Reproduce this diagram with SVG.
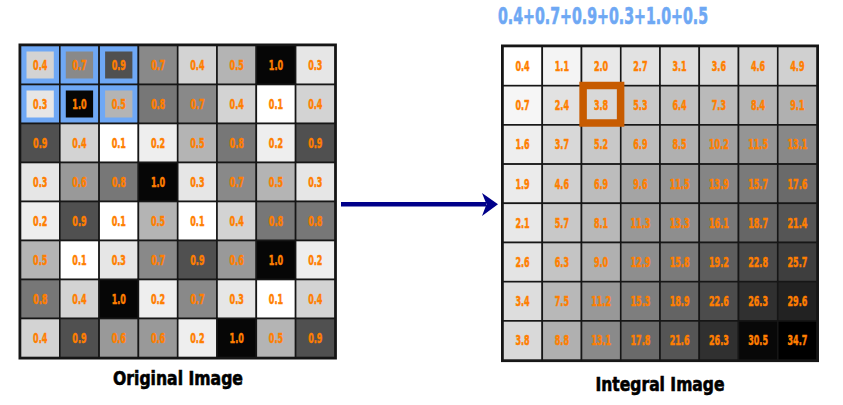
<svg xmlns="http://www.w3.org/2000/svg" width="843" height="405" viewBox="0 0 843 405">
<style>
  .c{stroke:#161616;stroke-width:1.6}
  .n{font-family:"Liberation Sans Narrow","DejaVu Sans Condensed","Roboto Condensed",sans-serif;font-weight:bold;font-size:14px;fill:#ff7f00;stroke:#ff7f00;stroke-width:0.5;text-anchor:middle}
  .lbl{font-family:"Liberation Sans Narrow","DejaVu Sans Condensed",sans-serif;font-weight:bold;font-size:20px;fill:#000;stroke:#000;stroke-width:0.6;text-anchor:middle}
  .ttl{font-family:"Liberation Sans Narrow","DejaVu Sans Condensed",sans-serif;font-weight:bold;font-size:23px;fill:#6ea8f4;stroke:#6ea8f4;stroke-width:0.6}
  .hl{fill:#6fa8f5}
  .v1{fill:#ffffff}.v2{fill:#eeeeee}.v3{fill:#e6e6e6}.v4{fill:#d3d3d3}.v5{fill:#b4b4b4}
  .v6{fill:#999999}.v7{fill:#898989}.v8{fill:#777777}.v9{fill:#505050}.v10{fill:#060606}
</style>
<rect width="843" height="405" fill="#ffffff"/>

<text class="ttl" x="498" y="23.5" textLength="210" lengthAdjust="spacingAndGlyphs">0.4+0.7+0.9+0.3+1.0+0.5</text>

<g id="original-image">
  <rect x="19.5" y="44.5" width="316.4" height="314" fill="none" stroke="#161616" stroke-width="2"/>
  <rect class="c hl" x="20.5" y="45.5" width="39.3" height="39"/><rect class="v4" x="26.5" y="51.5" width="27.3" height="27"/>
  <rect class="c hl" x="59.8" y="45.5" width="39.3" height="39"/><rect class="v7" x="65.8" y="51.5" width="27.3" height="27"/>
  <rect class="c hl" x="99.1" y="45.5" width="39.3" height="39"/><rect class="v9" x="105.1" y="51.5" width="27.3" height="27"/>
  <rect class="c v7" x="138.4" y="45.5" width="39.3" height="39"/>
  <rect class="c v4" x="177.7" y="45.5" width="39.3" height="39"/>
  <rect class="c v5" x="217" y="45.5" width="39.3" height="39"/>
  <rect class="c v10" x="256.3" y="45.5" width="39.3" height="39"/>
  <rect class="c v3" x="295.6" y="45.5" width="39.3" height="39"/>
  <rect class="c hl" x="20.5" y="84.5" width="39.3" height="39"/><rect class="v3" x="26.5" y="90.5" width="27.3" height="27"/>
  <rect class="c hl" x="59.8" y="84.5" width="39.3" height="39"/><rect class="v10" x="65.8" y="90.5" width="27.3" height="27"/>
  <rect class="c hl" x="99.1" y="84.5" width="39.3" height="39"/><rect class="v5" x="105.1" y="90.5" width="27.3" height="27"/>
  <rect class="c v8" x="138.4" y="84.5" width="39.3" height="39"/>
  <rect class="c v7" x="177.7" y="84.5" width="39.3" height="39"/>
  <rect class="c v4" x="217" y="84.5" width="39.3" height="39"/>
  <rect class="c v1" x="256.3" y="84.5" width="39.3" height="39"/>
  <rect class="c v4" x="295.6" y="84.5" width="39.3" height="39"/>
  <rect class="c v9" x="20.5" y="123.5" width="39.3" height="39"/>
  <rect class="c v4" x="59.8" y="123.5" width="39.3" height="39"/>
  <rect class="c v1" x="99.1" y="123.5" width="39.3" height="39"/>
  <rect class="c v2" x="138.4" y="123.5" width="39.3" height="39"/>
  <rect class="c v5" x="177.7" y="123.5" width="39.3" height="39"/>
  <rect class="c v8" x="217" y="123.5" width="39.3" height="39"/>
  <rect class="c v2" x="256.3" y="123.5" width="39.3" height="39"/>
  <rect class="c v9" x="295.6" y="123.5" width="39.3" height="39"/>
  <rect class="c v3" x="20.5" y="162.5" width="39.3" height="39"/>
  <rect class="c v6" x="59.8" y="162.5" width="39.3" height="39"/>
  <rect class="c v8" x="99.1" y="162.5" width="39.3" height="39"/>
  <rect class="c v10" x="138.4" y="162.5" width="39.3" height="39"/>
  <rect class="c v3" x="177.7" y="162.5" width="39.3" height="39"/>
  <rect class="c v7" x="217" y="162.5" width="39.3" height="39"/>
  <rect class="c v5" x="256.3" y="162.5" width="39.3" height="39"/>
  <rect class="c v3" x="295.6" y="162.5" width="39.3" height="39"/>
  <rect class="c v2" x="20.5" y="201.5" width="39.3" height="39"/>
  <rect class="c v9" x="59.8" y="201.5" width="39.3" height="39"/>
  <rect class="c v1" x="99.1" y="201.5" width="39.3" height="39"/>
  <rect class="c v5" x="138.4" y="201.5" width="39.3" height="39"/>
  <rect class="c v1" x="177.7" y="201.5" width="39.3" height="39"/>
  <rect class="c v4" x="217" y="201.5" width="39.3" height="39"/>
  <rect class="c v8" x="256.3" y="201.5" width="39.3" height="39"/>
  <rect class="c v8" x="295.6" y="201.5" width="39.3" height="39"/>
  <rect class="c v5" x="20.5" y="240.5" width="39.3" height="39"/>
  <rect class="c v1" x="59.8" y="240.5" width="39.3" height="39"/>
  <rect class="c v3" x="99.1" y="240.5" width="39.3" height="39"/>
  <rect class="c v7" x="138.4" y="240.5" width="39.3" height="39"/>
  <rect class="c v9" x="177.7" y="240.5" width="39.3" height="39"/>
  <rect class="c v6" x="217" y="240.5" width="39.3" height="39"/>
  <rect class="c v10" x="256.3" y="240.5" width="39.3" height="39"/>
  <rect class="c v2" x="295.6" y="240.5" width="39.3" height="39"/>
  <rect class="c v8" x="20.5" y="279.5" width="39.3" height="39"/>
  <rect class="c v4" x="59.8" y="279.5" width="39.3" height="39"/>
  <rect class="c v10" x="99.1" y="279.5" width="39.3" height="39"/>
  <rect class="c v2" x="138.4" y="279.5" width="39.3" height="39"/>
  <rect class="c v7" x="177.7" y="279.5" width="39.3" height="39"/>
  <rect class="c v3" x="217" y="279.5" width="39.3" height="39"/>
  <rect class="c v1" x="256.3" y="279.5" width="39.3" height="39"/>
  <rect class="c v4" x="295.6" y="279.5" width="39.3" height="39"/>
  <rect class="c v4" x="20.5" y="318.5" width="39.3" height="39"/>
  <rect class="c v9" x="59.8" y="318.5" width="39.3" height="39"/>
  <rect class="c v6" x="99.1" y="318.5" width="39.3" height="39"/>
  <rect class="c v6" x="138.4" y="318.5" width="39.3" height="39"/>
  <rect class="c v2" x="177.7" y="318.5" width="39.3" height="39"/>
  <rect class="c v10" x="217" y="318.5" width="39.3" height="39"/>
  <rect class="c v5" x="256.3" y="318.5" width="39.3" height="39"/>
  <rect class="c v9" x="295.6" y="318.5" width="39.3" height="39"/>

  <g class="n" transform="scale(0.64,1)">
    <text x="62.81" y="70">0.4</text><text x="124.22" y="70">0.7</text><text x="185.63" y="70">0.9</text><text x="247.03" y="70">0.7</text><text x="308.44" y="70">0.4</text><text x="369.84" y="70">0.5</text><text x="431.25" y="70">1.0</text><text x="492.66" y="70">0.3</text>
    <text x="62.81" y="109">0.3</text><text x="124.22" y="109">1.0</text><text x="185.63" y="109">0.5</text><text x="247.03" y="109">0.8</text><text x="308.44" y="109">0.7</text><text x="369.84" y="109">0.4</text><text x="431.25" y="109">0.1</text><text x="492.66" y="109">0.4</text>
    <text x="62.81" y="148">0.9</text><text x="124.22" y="148">0.4</text><text x="185.63" y="148">0.1</text><text x="247.03" y="148">0.2</text><text x="308.44" y="148">0.5</text><text x="369.84" y="148">0.8</text><text x="431.25" y="148">0.2</text><text x="492.66" y="148">0.9</text>
    <text x="62.81" y="187">0.3</text><text x="124.22" y="187">0.6</text><text x="185.63" y="187">0.8</text><text x="247.03" y="187">1.0</text><text x="308.44" y="187">0.3</text><text x="369.84" y="187">0.7</text><text x="431.25" y="187">0.5</text><text x="492.66" y="187">0.3</text>
    <text x="62.81" y="226">0.2</text><text x="124.22" y="226">0.9</text><text x="185.63" y="226">0.1</text><text x="247.03" y="226">0.5</text><text x="308.44" y="226">0.1</text><text x="369.84" y="226">0.4</text><text x="431.25" y="226">0.8</text><text x="492.66" y="226">0.8</text>
    <text x="62.81" y="265">0.5</text><text x="124.22" y="265">0.1</text><text x="185.63" y="265">0.3</text><text x="247.03" y="265">0.7</text><text x="308.44" y="265">0.9</text><text x="369.84" y="265">0.6</text><text x="431.25" y="265">1.0</text><text x="492.66" y="265">0.2</text>
    <text x="62.81" y="304">0.8</text><text x="124.22" y="304">0.4</text><text x="185.63" y="304">1.0</text><text x="247.03" y="304">0.2</text><text x="308.44" y="304">0.7</text><text x="369.84" y="304">0.3</text><text x="431.25" y="304">0.1</text><text x="492.66" y="304">0.4</text>
    <text x="62.81" y="343">0.4</text><text x="124.22" y="343">0.9</text><text x="185.63" y="343">0.6</text><text x="247.03" y="343">0.6</text><text x="308.44" y="343">0.2</text><text x="369.84" y="343">1.0</text><text x="431.25" y="343">0.5</text><text x="492.66" y="343">0.9</text>
  </g>
  <text class="lbl" x="178" y="385" textLength="130" lengthAdjust="spacingAndGlyphs">Original Image</text>
</g>

<g id="integral-image">
  <rect x="502" y="45.5" width="316" height="315.6" fill="none" stroke="#161616" stroke-width="2"/>
  <g class="c">
    <rect x="503" y="46.5" width="39.25" height="39.2" fill="#ffffff"/>
    <rect x="542.25" y="46.5" width="39.25" height="39.2" fill="#f4f4f4"/>
    <rect x="581.5" y="46.5" width="39.25" height="39.2" fill="#e9e9e9"/>
    <rect x="620.75" y="46.5" width="39.25" height="39.2" fill="#e2e2e2"/>
    <rect x="660" y="46.5" width="39.25" height="39.2" fill="#dedede"/>
    <rect x="699.25" y="46.5" width="39.25" height="39.2" fill="#dadada"/>
    <rect x="738.5" y="46.5" width="39.25" height="39.2" fill="#d4d4d4"/>
    <rect x="777.75" y="46.5" width="39.25" height="39.2" fill="#d0d0d0"/>
    <rect x="503" y="85.7" width="39.25" height="39.2" fill="#f6f6f6"/>
    <rect x="542.25" y="85.7" width="39.25" height="39.2" fill="#e2e2e2"/>
    <rect x="581.5" y="85.7" width="39.25" height="39.2" fill="#d8d8d8"/>
    <rect x="620.75" y="85.7" width="39.25" height="39.2" fill="#c8c8c8"/>
    <rect x="660" y="85.7" width="39.25" height="39.2" fill="#c0c0c0"/>
    <rect x="699.25" y="85.7" width="39.25" height="39.2" fill="#bababa"/>
    <rect x="738.5" y="85.7" width="39.25" height="39.2" fill="#b4b4b4"/>
    <rect x="777.75" y="85.7" width="39.25" height="39.2" fill="#b0b0b0"/>
    <rect x="503" y="124.9" width="39.25" height="39.2" fill="#eeeeee"/>
    <rect x="542.25" y="124.9" width="39.25" height="39.2" fill="#d8d8d8"/>
    <rect x="581.5" y="124.9" width="39.25" height="39.2" fill="#c8c8c8"/>
    <rect x="620.75" y="124.9" width="39.25" height="39.2" fill="#bcbcbc"/>
    <rect x="660" y="124.9" width="39.25" height="39.2" fill="#b0b0b0"/>
    <rect x="699.25" y="124.9" width="39.25" height="39.2" fill="#a0a0a0"/>
    <rect x="738.5" y="124.9" width="39.25" height="39.2" fill="#959595"/>
    <rect x="777.75" y="124.9" width="39.25" height="39.2" fill="#888888"/>
    <rect x="503" y="164.1" width="39.25" height="39.2" fill="#ebebeb"/>
    <rect x="542.25" y="164.1" width="39.25" height="39.2" fill="#d0d0d0"/>
    <rect x="581.5" y="164.1" width="39.25" height="39.2" fill="#bcbcbc"/>
    <rect x="620.75" y="164.1" width="39.25" height="39.2" fill="#a4a4a4"/>
    <rect x="660" y="164.1" width="39.25" height="39.2" fill="#959595"/>
    <rect x="699.25" y="164.1" width="39.25" height="39.2" fill="#858585"/>
    <rect x="738.5" y="164.1" width="39.25" height="39.2" fill="#7a7a7a"/>
    <rect x="777.75" y="164.1" width="39.25" height="39.2" fill="#6a6a6a"/>
    <rect x="503" y="203.3" width="39.25" height="39.2" fill="#e8e8e8"/>
    <rect x="542.25" y="203.3" width="39.25" height="39.2" fill="#c8c8c8"/>
    <rect x="581.5" y="203.3" width="39.25" height="39.2" fill="#b8b8b8"/>
    <rect x="620.75" y="203.3" width="39.25" height="39.2" fill="#989898"/>
    <rect x="660" y="203.3" width="39.25" height="39.2" fill="#8e8e8e"/>
    <rect x="699.25" y="203.3" width="39.25" height="39.2" fill="#787878"/>
    <rect x="738.5" y="203.3" width="39.25" height="39.2" fill="#666666"/>
    <rect x="777.75" y="203.3" width="39.25" height="39.2" fill="#555555"/>
    <rect x="503" y="242.5" width="39.25" height="39.2" fill="#e4e4e4"/>
    <rect x="542.25" y="242.5" width="39.25" height="39.2" fill="#c4c4c4"/>
    <rect x="581.5" y="242.5" width="39.25" height="39.2" fill="#b0b0b0"/>
    <rect x="620.75" y="242.5" width="39.25" height="39.2" fill="#8e8e8e"/>
    <rect x="660" y="242.5" width="39.25" height="39.2" fill="#7a7a7a"/>
    <rect x="699.25" y="242.5" width="39.25" height="39.2" fill="#5e5e5e"/>
    <rect x="738.5" y="242.5" width="39.25" height="39.2" fill="#4a4a4a"/>
    <rect x="777.75" y="242.5" width="39.25" height="39.2" fill="#3e3e3e"/>
    <rect x="503" y="281.7" width="39.25" height="39.2" fill="#dddddd"/>
    <rect x="542.25" y="281.7" width="39.25" height="39.2" fill="#b8b8b8"/>
    <rect x="581.5" y="281.7" width="39.25" height="39.2" fill="#989898"/>
    <rect x="620.75" y="281.7" width="39.25" height="39.2" fill="#7e7e7e"/>
    <rect x="660" y="281.7" width="39.25" height="39.2" fill="#646464"/>
    <rect x="699.25" y="281.7" width="39.25" height="39.2" fill="#4c4c4c"/>
    <rect x="738.5" y="281.7" width="39.25" height="39.2" fill="#303030"/>
    <rect x="777.75" y="281.7" width="39.25" height="39.2" fill="#222222"/>
    <rect x="503" y="320.9" width="39.25" height="39.2" fill="#d9d9d9"/>
    <rect x="542.25" y="320.9" width="39.25" height="39.2" fill="#b0b0b0"/>
    <rect x="581.5" y="320.9" width="39.25" height="39.2" fill="#8a8a8a"/>
    <rect x="620.75" y="320.9" width="39.25" height="39.2" fill="#6a6a6a"/>
    <rect x="660" y="320.9" width="39.25" height="39.2" fill="#555555"/>
    <rect x="699.25" y="320.9" width="39.25" height="39.2" fill="#303030"/>
    <rect x="738.5" y="320.9" width="39.25" height="39.2" fill="#080808"/>
    <rect x="777.75" y="320.9" width="39.25" height="39.2" fill="#000000"/>
  </g>
  <rect id="highlight-box" x="583.1" y="85.5" width="37.5" height="37.5" fill="none" stroke="#c75b00" stroke-width="7.5"/>
  <g class="n" transform="scale(0.64,1)">
    <text x="816.56" y="71.1">0.4</text><text x="877.97" y="71.1">1.1</text><text x="939.22" y="71.1">2.0</text><text x="1000.63" y="71.1">2.7</text><text x="1061.88" y="71.1">3.1</text><text x="1123.28" y="71.1">3.6</text><text x="1184.53" y="71.1">4.6</text><text x="1245.94" y="71.1">4.9</text>
    <text x="816.56" y="110.3">0.7</text><text x="877.97" y="110.3">2.4</text><text x="939.22" y="110.3">3.8</text><text x="1000.63" y="110.3">5.3</text><text x="1061.88" y="110.3">6.4</text><text x="1123.28" y="110.3">7.3</text><text x="1184.53" y="110.3">8.4</text><text x="1245.94" y="110.3">9.1</text>
    <text x="816.56" y="149.5">1.6</text><text x="877.97" y="149.5">3.7</text><text x="939.22" y="149.5">5.2</text><text x="1000.63" y="149.5">6.9</text><text x="1061.88" y="149.5">8.5</text><text x="1123.28" y="149.5">10.2</text><text x="1184.53" y="149.5">11.5</text><text x="1245.94" y="149.5">13.1</text>
    <text x="816.56" y="188.7">1.9</text><text x="877.97" y="188.7">4.6</text><text x="939.22" y="188.7">6.9</text><text x="1000.63" y="188.7">9.6</text><text x="1061.88" y="188.7">11.5</text><text x="1123.28" y="188.7">13.9</text><text x="1184.53" y="188.7">15.7</text><text x="1245.94" y="188.7">17.6</text>
    <text x="816.56" y="227.9">2.1</text><text x="877.97" y="227.9">5.7</text><text x="939.22" y="227.9">8.1</text><text x="1000.63" y="227.9">11.3</text><text x="1061.88" y="227.9">13.3</text><text x="1123.28" y="227.9">16.1</text><text x="1184.53" y="227.9">18.7</text><text x="1245.94" y="227.9">21.4</text>
    <text x="816.56" y="267.1">2.6</text><text x="877.97" y="267.1">6.3</text><text x="939.22" y="267.1">9.0</text><text x="1000.63" y="267.1">12.9</text><text x="1061.88" y="267.1">15.8</text><text x="1123.28" y="267.1">19.2</text><text x="1184.53" y="267.1">22.8</text><text x="1245.94" y="267.1">25.7</text>
    <text x="816.56" y="306.3">3.4</text><text x="877.97" y="306.3">7.5</text><text x="939.22" y="306.3">11.2</text><text x="1000.63" y="306.3">15.3</text><text x="1061.88" y="306.3">18.9</text><text x="1123.28" y="306.3">22.6</text><text x="1184.53" y="306.3">26.3</text><text x="1245.94" y="306.3">29.6</text>
    <text x="816.56" y="345.5">3.8</text><text x="877.97" y="345.5">8.8</text><text x="939.22" y="345.5">13.1</text><text x="1000.63" y="345.5">17.8</text><text x="1061.88" y="345.5">21.6</text><text x="1123.28" y="345.5">26.3</text><text x="1184.53" y="345.5">30.5</text><text x="1245.94" y="345.5">34.7</text>
  </g>
  <text class="lbl" x="660" y="391" textLength="129" lengthAdjust="spacingAndGlyphs">Integral Image</text>
</g>

<g id="connectors">
  <line x1="341" y1="204.3" x2="486" y2="204.3" stroke="#00008a" stroke-width="4.5"/>
  <polygon points="482,193 498,204.3 482,216 486.5,204.3" fill="#00008a"/>
</g>
</svg>
